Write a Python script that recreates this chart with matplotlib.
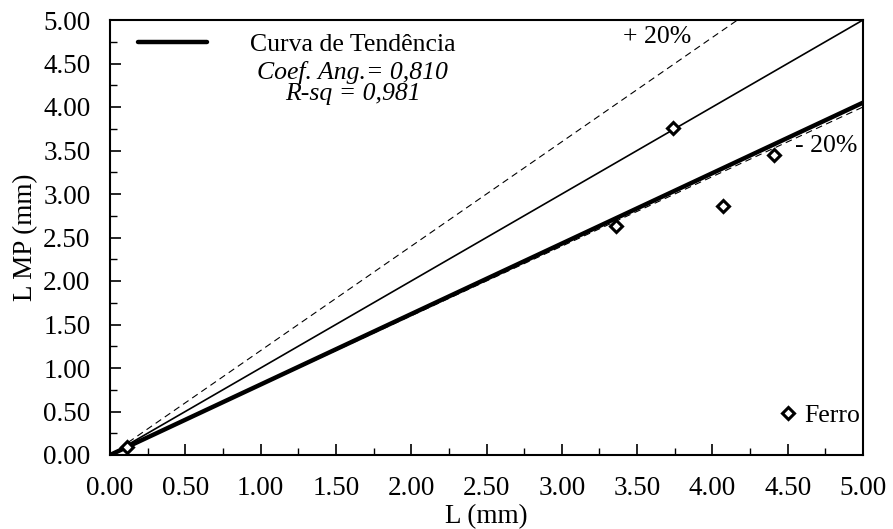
import numpy as np
import matplotlib
matplotlib.use("Agg")
import matplotlib.pyplot as plt
from matplotlib.ticker import MultipleLocator, FormatStrFormatter

plt.rcParams['font.family'] = ['Liberation Serif', 'DejaVu Serif']

# data
L_vals = [0.11, 3.36, 3.74, 4.07, 4.41]
LMP_vals = [0.09, 2.63, 3.76, 2.86, 3.45]
slope_trend = 0.810
r_sq = 0.981
x_line = np.array([0.0, 5.0])

fig = plt.figure(figsize=(8.93, 5.29), dpi=100)
ax = fig.add_axes([110/893, 1-455/529, (863-110)/893, (455-20)/529])

ax.plot(x_line, x_line, color='black', lw=1.2, zorder=2)
ax.plot(x_line, 1.2*x_line, color='black', lw=0.8, ls=(0, (6, 4)), zorder=2)
ax.plot(x_line, 0.8*x_line, color='black', lw=0.8, ls=(0, (6, 4)), zorder=2)
tr, = ax.plot(x_line, slope_trend*x_line, color='black', lw=3.2, zorder=3,
              solid_capstyle='round', label='Curva de Tendência')
pts, = ax.plot(L_vals, LMP_vals, ls='none', marker='D', ms=6.5, mfc='white',
               mec='black', mew=2.2, zorder=4, label='Ferro')

ax.set_xlim(0, 5)
ax.set_ylim(0, 5)
ax.xaxis.set_major_locator(MultipleLocator(0.5))
ax.yaxis.set_major_locator(MultipleLocator(0.5))
ax.xaxis.set_minor_locator(MultipleLocator(0.25))
ax.yaxis.set_minor_locator(MultipleLocator(0.25))
ax.xaxis.set_major_formatter(FormatStrFormatter('%.2f'))
ax.yaxis.set_major_formatter(FormatStrFormatter('%.2f'))
ax.tick_params(which='major', direction='in', length=8, width=1.2, labelsize=19.5)
ax.tick_params(axis='x', which='major', pad=15)
ax.tick_params(axis='y', which='major', pad=14)
ax.tick_params(which='minor', direction='in', length=5, width=1.0)
for s in ax.spines.values():
    s.set_linewidth(1.5)

ax.set_xlabel('L (mm)', fontsize=19.5, labelpad=2)
ax.set_ylabel('L MP (mm)', fontsize=19.5, labelpad=4)

leg1 = ax.legend(handles=[tr], loc='center left', bbox_to_anchor=(0.037, 0.943),
                 frameon=False, fontsize=18.5, handlelength=2.68, handletextpad=1.67,
                 borderaxespad=0, borderpad=0)
ax.add_artist(leg1)
ax.text(0.322, 0.88, 'Coef. Ang.= 0,810', transform=ax.transAxes, fontsize=18.5,
        style='italic', ha='center', va='center')
ax.text(0.322, 0.83, 'R-sq = 0,981', transform=ax.transAxes, fontsize=18.5,
        style='italic', ha='center', va='center')

ax.legend(handles=[pts], loc='center right', bbox_to_anchor=(1.0, 0.09),
          frameon=False, fontsize=18.5, handlelength=0.7, handletextpad=0.3,
          borderaxespad=0, borderpad=0.1)

ax.text(0.726, 0.96, '+ 20%', transform=ax.transAxes, fontsize=18.5,
        ha='center', va='center')
ax.text(0.993, 0.71, '- 20%', transform=ax.transAxes, fontsize=18.5,
        ha='right', va='center')

fig.savefig('out.png', dpi=100)
